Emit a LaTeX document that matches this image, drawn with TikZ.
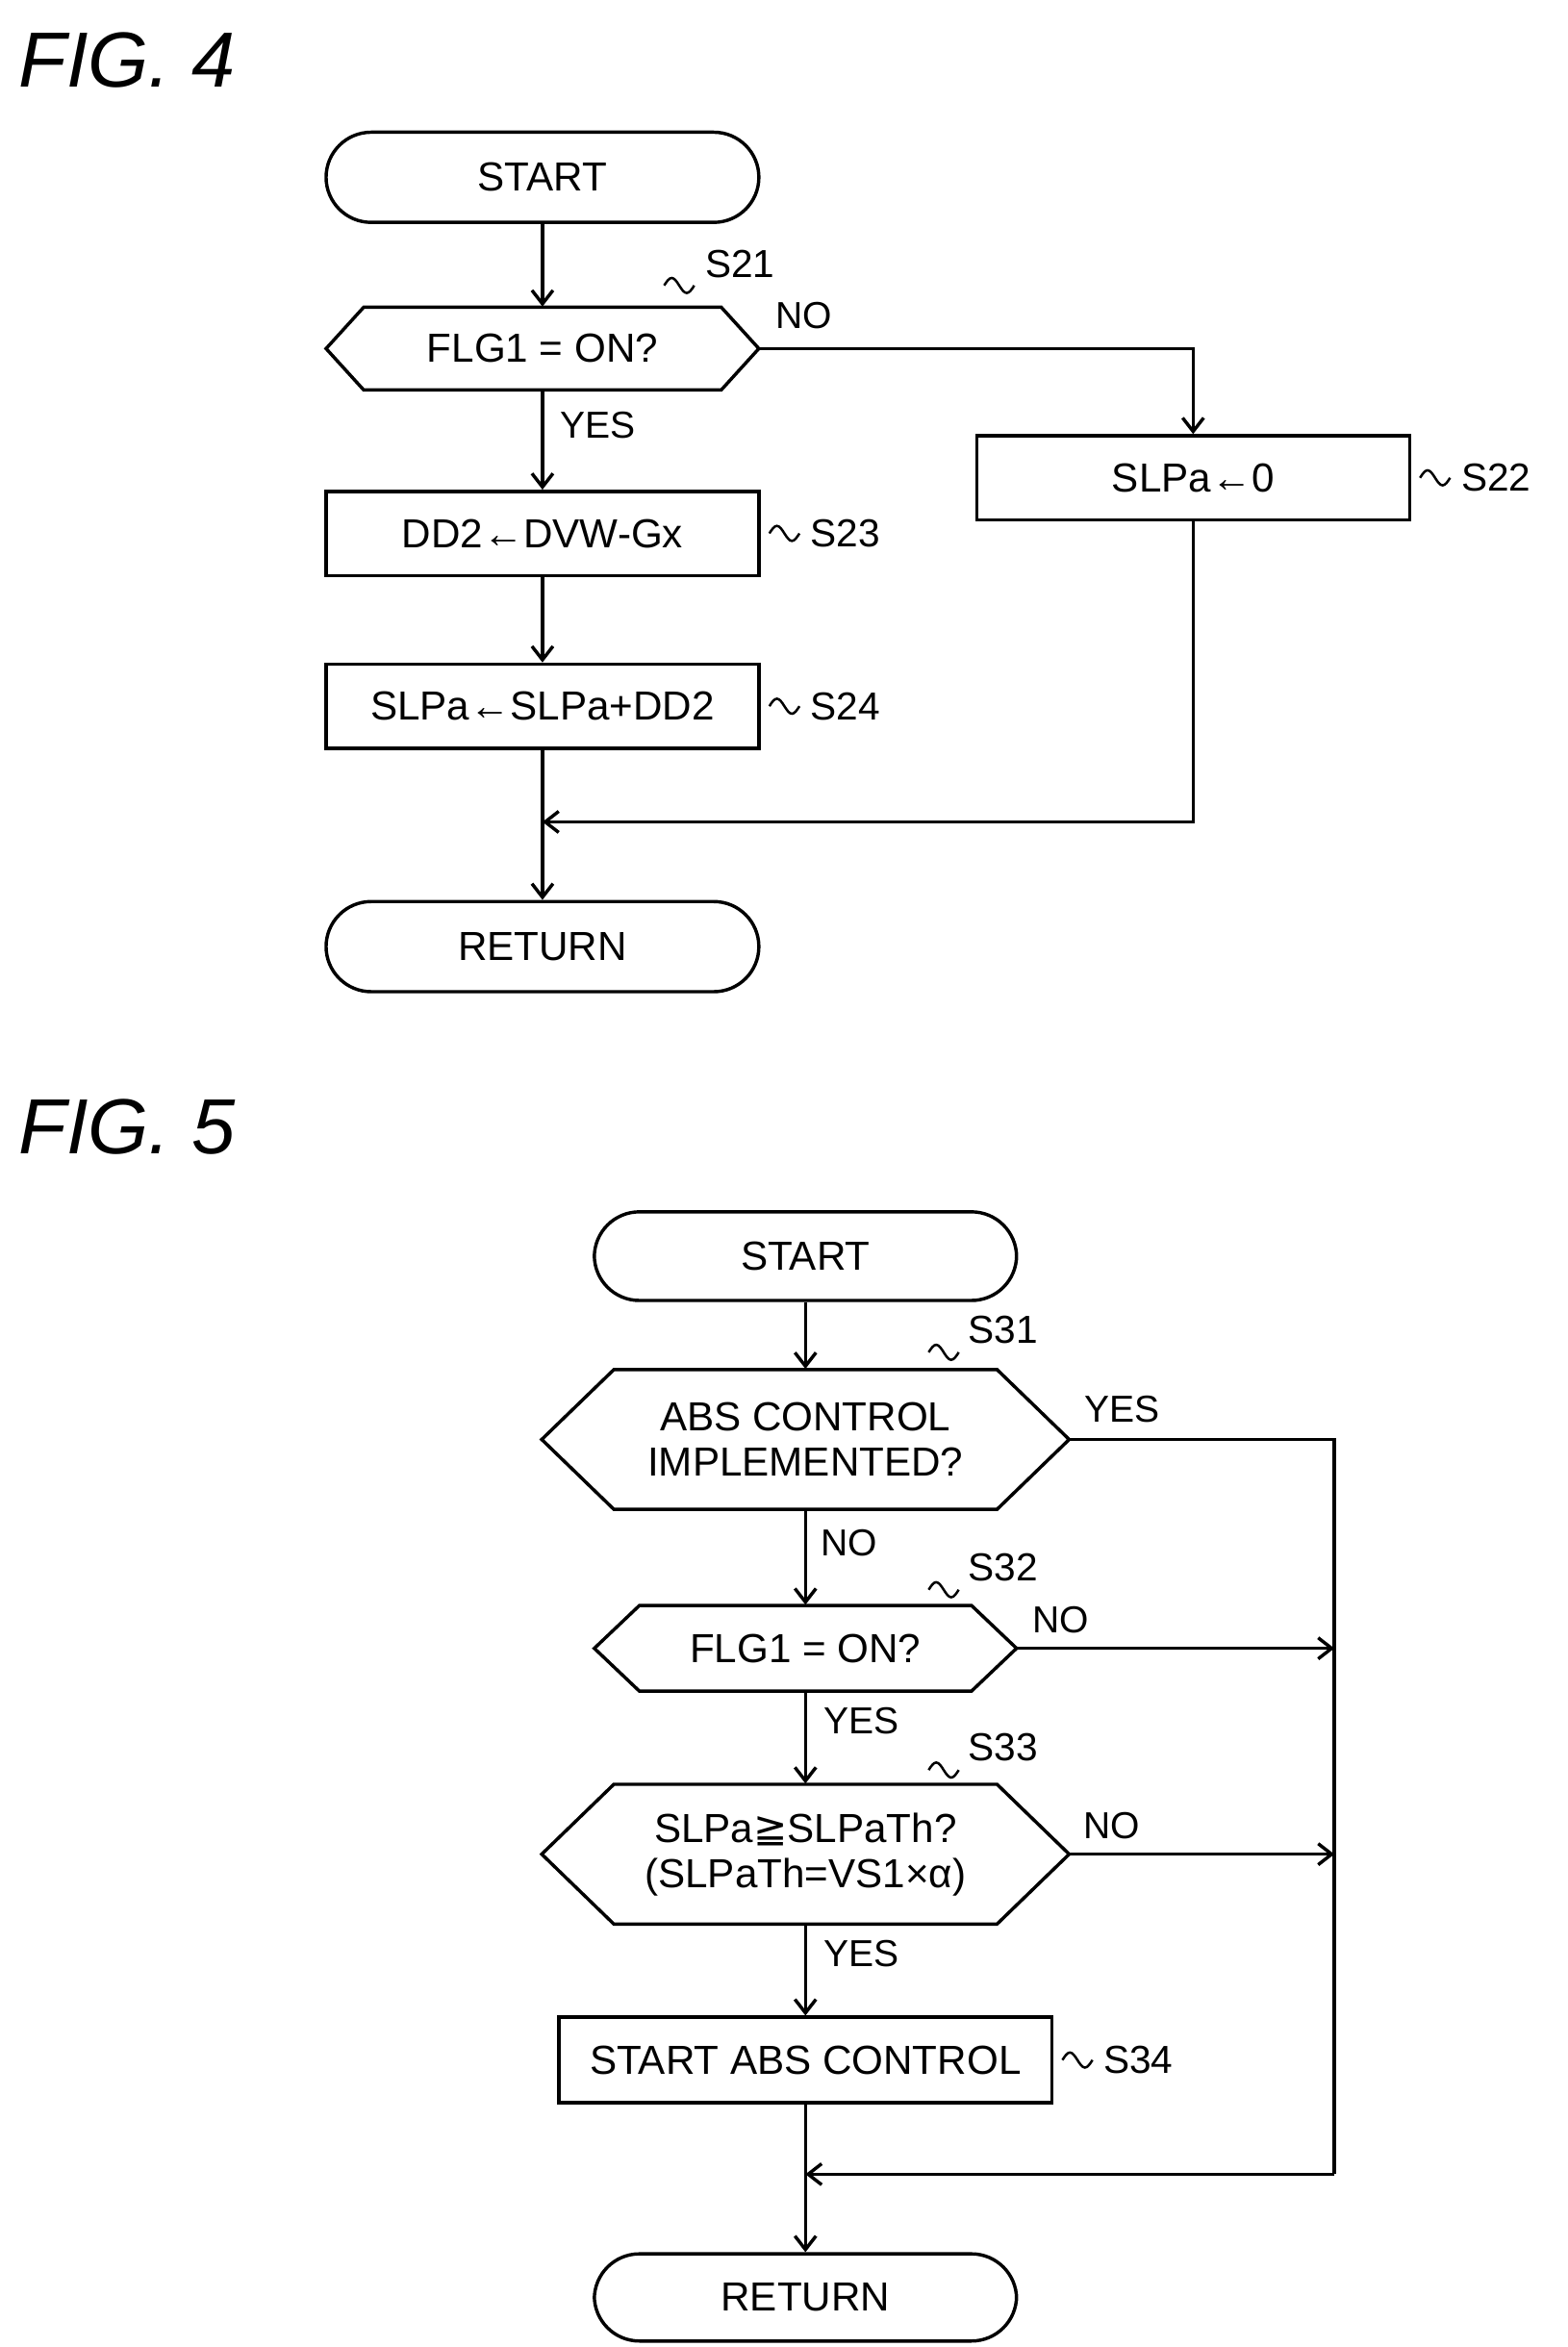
\documentclass[tikz,border=0pt]{standalone}
\usepackage{fontspec}
\setmainfont{Liberation Sans}
\newfontfamily\dv{DejaVu Sans}
\usetikzlibrary{arrows.meta,calc}
\begin{document}
\begin{tikzpicture}[x=1pt,y=-1pt,line width=2.2pt,
 every node/.style={font=\fontsize{27}{30}\selectfont},
 term/.style={draw,rounded corners=30pt,minimum width=288pt,minimum height=60pt,inner sep=0pt},
 box/.style={draw,minimum width=288pt,minimum height=56pt,inner sep=0pt},
 hexa/.style={minimum width=#1,inner sep=0pt},
 lbl/.style={font=\fontsize{26}{28}\selectfont,anchor=west},
 yn/.style={font=\fontsize{25}{28}\selectfont},
 arr/.style={-{Straight Barb[length=9pt,width=14pt]}},
 fig/.style={font=\fontsize{52}{56}\selectfont\itshape,anchor=west}]
\useasboundingbox (0,0) rectangle (1043,1562);
\newcommand\hex[5]{% name, cx, cy, width, height, inset via \hexd
 \draw (#2-#4/2,#3) -- (#2-#4/2+#5,#3-\hh) -- (#2+#4/2-#5,#3-\hh) -- (#2+#4/2,#3) -- (#2+#4/2-#5,#3+\hh) -- (#2-#4/2+#5,#3+\hh) -- cycle;}
\newcommand\wv[2]{\draw[line width=1.6pt] (#1,#2) sin (#1+5,#2-5) cos (#1+10,#2) sin (#1+15,#2+5) cos (#1+20,#2);}
% FIG 4
\node[fig] (f4) at (8,40) {FIG. 4};
\node[term] (st4) at (361,118) {START};
\def\hh{27.5}\hex{}{361}{232}{288}{25}
\node (s21) at (361,232) {FLG1 = ON?};
\coordinate (s21w) at (217,232); \coordinate (s21e) at (505,232);
\coordinate (s21s) at (361,260);
\node[box] (s22) at (794,318) {SLPa←0};
\node[box] (s23) at (361,355) {DD2←DVW-Gx};
\node[box] (s24) at (361,470) {SLPa←SLPa+DD2};
\node[term] (ret4) at (361,630) {RETURN};
\coordinate (j4) at (361,547);
\draw[arr] (st4) -- (361,204);
\draw[arr] (s21s) -- (s23);
\draw[arr] (s23) -- (s24);
\draw[arr] (s24) -- (ret4);
\draw[arr] (s21e) -| (s22);
\draw[arr] (s22) |- (j4);
\node[yn] at (398,283) {YES};
\node[yn] at (535,210) {NO};
\wv{442}{190}\node[lbl] at (465,176) {S21};
\wv{945}{318}\node[lbl] at (968,318) {S22};
\wv{512}{355}\node[lbl] at (535,355) {S23};
\wv{512}{470}\node[lbl] at (535,470) {S24};
% FIG 5
\node[fig] (f5) at (8,750) {FIG. 5};
\node[term,minimum width=281pt,minimum height=59pt] (st5) at (536,836) {START};
\def\hh{46.5}\hex{}{536}{958}{351}{48}
\node[align=center] (s31) at (536,958) {ABS CONTROL\\IMPLEMENTED?};
\def\hh{28.5}\hex{}{536}{1097}{281}{30}
\node (s32) at (536,1097) {FLG1 = ON?};
\def\hh{46.5}\hex{}{536}{1234}{351}{48}
\node[align=center] (s33) at (536,1234) {SLPa{\dv ≧}SLPaTh?\\(SLPaTh=VS1×α)};
\node[box,minimum width=328pt,minimum height=57pt] (s34) at (536,1371) {START ABS CONTROL};
\node[term,minimum width=281pt,minimum height=58pt] (ret5) at (536,1529) {RETURN};
\coordinate (r) at (888,958);
\coordinate (j5) at (536,1447);
\draw[arr] (st5) -- (536,911);
\draw[arr] (536,1005) -- (536,1068);
\draw[arr] (536,1126) -- (536,1187);
\draw[arr] (536,1281) -- (s34);
\draw[arr] (s34) -- (ret5);
\draw (712,958) -- (r) -- (888,1447);
\draw[arr] (888,1447) -- (j5);
\draw[arr] (677,1097) -- (888,1097);
\draw[arr] (712,1234) -- (888,1234);
\node[yn] at (747,938) {YES};
\node[yn] at (565,1027) {NO};
\node[yn] at (706,1078) {NO};
\node[yn] at (573,1145) {YES};
\node[yn] at (740,1215) {NO};
\node[yn] at (573,1300) {YES};
\wv{618}{900}\node[lbl] at (640,885) {S31};
\wv{618}{1058}\node[lbl] at (640,1043) {S32};
\wv{618}{1178}\node[lbl] at (640,1163) {S33};
\wv{707}{1371}\node[lbl] at (730,1371) {S34};
\end{tikzpicture}
\end{document}
